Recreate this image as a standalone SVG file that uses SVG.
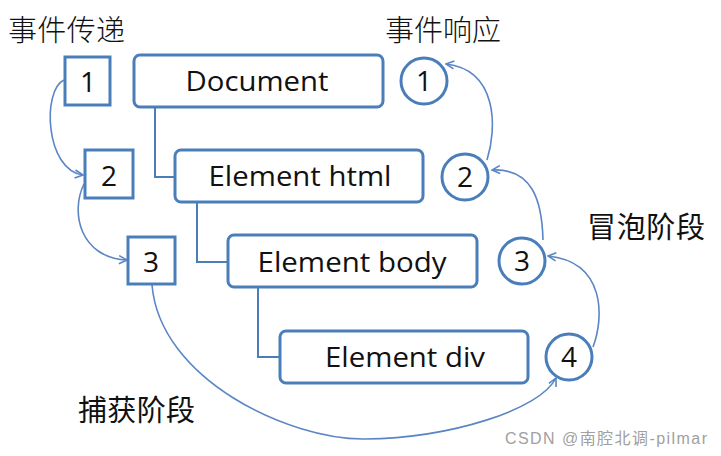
<svg xmlns="http://www.w3.org/2000/svg" width="721" height="456" viewBox="0 0 721 456">
<defs>
<style>
.box{fill:#fff;stroke:#4a7ebb;stroke-width:3}
.sq{fill:#fff;stroke:#4a7ebb;stroke-width:3}
.circ{fill:#fff;stroke:#4a7ebb;stroke-width:3}
.t{font-family:"Open Sans","Noto Sans",sans-serif;font-size:28px;fill:#111;text-anchor:middle}
.cn{font-family:"Noto Sans CJK SC",sans-serif;font-size:29px;fill:#111}
.tree{fill:none;stroke:#4a7ebb;stroke-width:2}
.arr{fill:none;stroke:#5b86c5;stroke-width:1.6;marker-end:url(#ah)}
</style>
<marker id="ah" viewBox="0 0 10 10" refX="9" refY="5" markerWidth="10" markerHeight="10" markerUnits="userSpaceOnUse" orient="auto">
<path d="M1,1 L9,5 L1,9" fill="none" stroke="#5b86c5" stroke-width="1.6"/>
</marker>
</defs>
<rect width="721" height="456" fill="#fff"/>
<text class="cn" x="8" y="41" font-weight="300" textLength="117">事件传递</text>
<text class="cn" x="385" y="41" font-weight="300" textLength="116">事件响应</text>
<text class="cn" x="587" y="238" textLength="118">冒泡阶段</text>
<text class="cn" x="78" y="421" textLength="117">捕获阶段</text>
<g id="connectors">
<path class="tree" d="M155,107 V177 H174"/>
<path class="tree" d="M197,202 V262 H227"/>
<path class="tree" d="M258,287 V357 H279"/>
<path class="arr" d="M64,80 C42,90 45,170 83,175"/>
<path class="arr" d="M84,184 C70,212 80,258 127,260"/>
<path class="arr" d="M152,285 C160,380 290,440 365,439 C450,438 540,410 556,378"/>
<path class="arr" d="M593,347 C604,318 606,262 548,256"/>
<path class="arr" d="M543,240 C542,200 532,168 492,170"/>
<path class="arr" d="M487,160 C497,128 498,70 446,64"/>
</g>
<g id="doc"><rect class="box" x="134" y="55" width="249" height="52" rx="6"/><text class="t" x="257" y="91" textLength="143" lengthAdjust="spacingAndGlyphs">Document</text></g>
<g id="html"><rect class="box" x="175" y="150" width="248" height="52" rx="6"/><text class="t" x="300" y="186" textLength="183" lengthAdjust="spacingAndGlyphs">Element html</text></g>
<g id="body"><rect class="box" x="228" y="235" width="249" height="52" rx="6"/><text class="t" x="352" y="272" textLength="189" lengthAdjust="spacingAndGlyphs">Element body</text></g>
<g id="div"><rect class="box" x="280" y="331" width="248" height="52" rx="6"/><text class="t" x="405" y="367" textLength="160" lengthAdjust="spacingAndGlyphs">Element div</text></g>
<g id="s1"><rect class="sq" x="65" y="57" width="45" height="48"/><text class="t" x="88" y="92">1</text></g>
<g id="s2"><rect class="sq" x="85" y="150" width="48" height="48"/><text class="t" x="109" y="186">2</text></g>
<g id="s3"><rect class="sq" x="128" y="237" width="47" height="47"/><text class="t" x="151" y="272">3</text></g>
<g id="c1"><circle class="circ" cx="424" cy="81" r="23"/><text class="t" x="424" y="91">1</text></g>
<g id="c2"><circle class="circ" cx="465" cy="177" r="23"/><text class="t" x="465" y="187">2</text></g>
<g id="c3"><circle class="circ" cx="522" cy="261" r="23"/><text class="t" x="522" y="271">3</text></g>
<g id="c4"><circle class="circ" cx="569" cy="357" r="23"/><text class="t" x="569" y="367">4</text></g>
<text x="505" y="444" font-family="Liberation Sans, Noto Sans CJK SC, sans-serif" font-size="16" fill="#a0a0a0" textLength="202">CSDN @南腔北调-pilmar</text>
</svg>
